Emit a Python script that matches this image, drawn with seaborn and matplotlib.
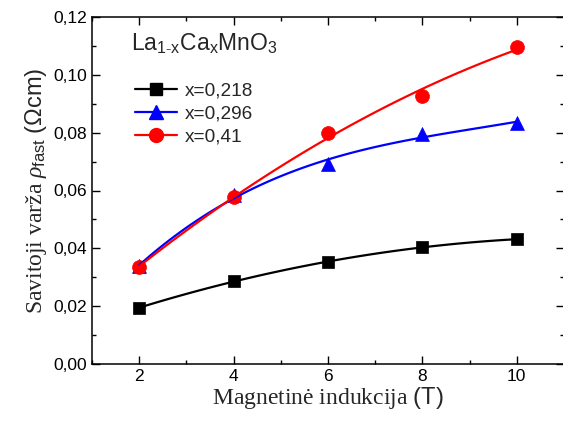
import matplotlib
matplotlib.use("Agg")
import matplotlib.pyplot as plt
import seaborn as sns
import numpy as np
from matplotlib.ticker import FuncFormatter, MultipleLocator
from matplotlib.lines import Line2D

# Data
field_T = [2, 4, 6, 8, 10]
rho_x0218 = [0.0194, 0.0287, 0.0353, 0.0403, 0.0432]
rho_x0296 = [0.0339, 0.0584, 0.0690, 0.0795, 0.0835]
rho_x041 = [0.0335, 0.0577, 0.0799, 0.0928, 0.1096]
series_labels = ["x=0,218", "x=0,296", "x=0,41"]

sns.set_style("ticks")
plt.rcParams['font.family'] = ['Liberation Sans', 'DejaVu Sans']
plt.rcParams['mathtext.fontset'] = 'custom'
plt.rcParams['mathtext.sf'] = 'Liberation Sans'
plt.rcParams['mathtext.rm'] = 'Liberation Serif'
plt.rcParams['mathtext.it'] = 'Liberation Serif:italic'

fig = plt.figure(figsize=(5.63, 4.21), dpi=100)
ax = fig.add_axes([92/563, 1-364/421, (564-92)/563, (364-17)/421])

styles = [
    (rho_x0218, "black", "s", 9, 2),
    (rho_x0296, "blue", "^", 10, 3),
    (rho_x041, "red", "o", 10, 2),
]
for vals, col, mk, ms, order in styles:
    sns.regplot(x=np.array(field_T), y=np.array(vals), order=order, ci=None, ax=ax,
                marker=mk, color=col,
                scatter_kws=dict(s=ms**2, edgecolors=col, linewidths=0.5, alpha=1, zorder=3),
                line_kws=dict(lw=1.6, zorder=4))

ax.set_xlim(1, 11)
ax.set_ylim(0, 0.12)
ax.xaxis.set_major_locator(MultipleLocator(2))
ax.xaxis.set_minor_locator(MultipleLocator(1))
ax.yaxis.set_major_locator(MultipleLocator(0.02))
ax.yaxis.set_minor_locator(MultipleLocator(0.01))
ax.yaxis.set_major_formatter(FuncFormatter(lambda v, p: f"{v:.2f}".replace(".", ",")))
ax.tick_params(which='both', direction='in', top=True, right=True, width=1, colors='black',
               labelsize=12.5)
ax.tick_params(which='major', length=6)
ax.tick_params(which='minor', length=3)
for s in ax.spines.values():
    s.set_linewidth(1.1)
    s.set_color('black')

ax.set_xlabel("Magnetinė indukcija $\\mathsf{(T)}$", fontfamily='Liberation Serif', fontsize=17, labelpad=1)
ax.set_ylabel("Savitoji varža $\\rho_{\\mathsf{fast}}$ $\\mathsf{(\\Omega cm)}$",
              fontfamily='Liberation Serif', fontsize=17, labelpad=3)

ax.text(0.082, 0.96, "$\\mathsf{La_{1\\text{-}x}Ca_xMnO_3}$", transform=ax.transAxes,
        fontsize=16.5, va='top', ha='left')

handles = [Line2D([], [], color=c, marker=m, markersize=ms, lw=1.6) for _, c, m, ms, _ in styles]
ax.legend(handles, series_labels, loc='upper left', bbox_to_anchor=(0.075, 0.835),
          frameon=False, fontsize=13.7, handlelength=2.2, handletextpad=0.4,
          labelspacing=0.3, borderaxespad=0)

fig.savefig("out.png", dpi=100)
